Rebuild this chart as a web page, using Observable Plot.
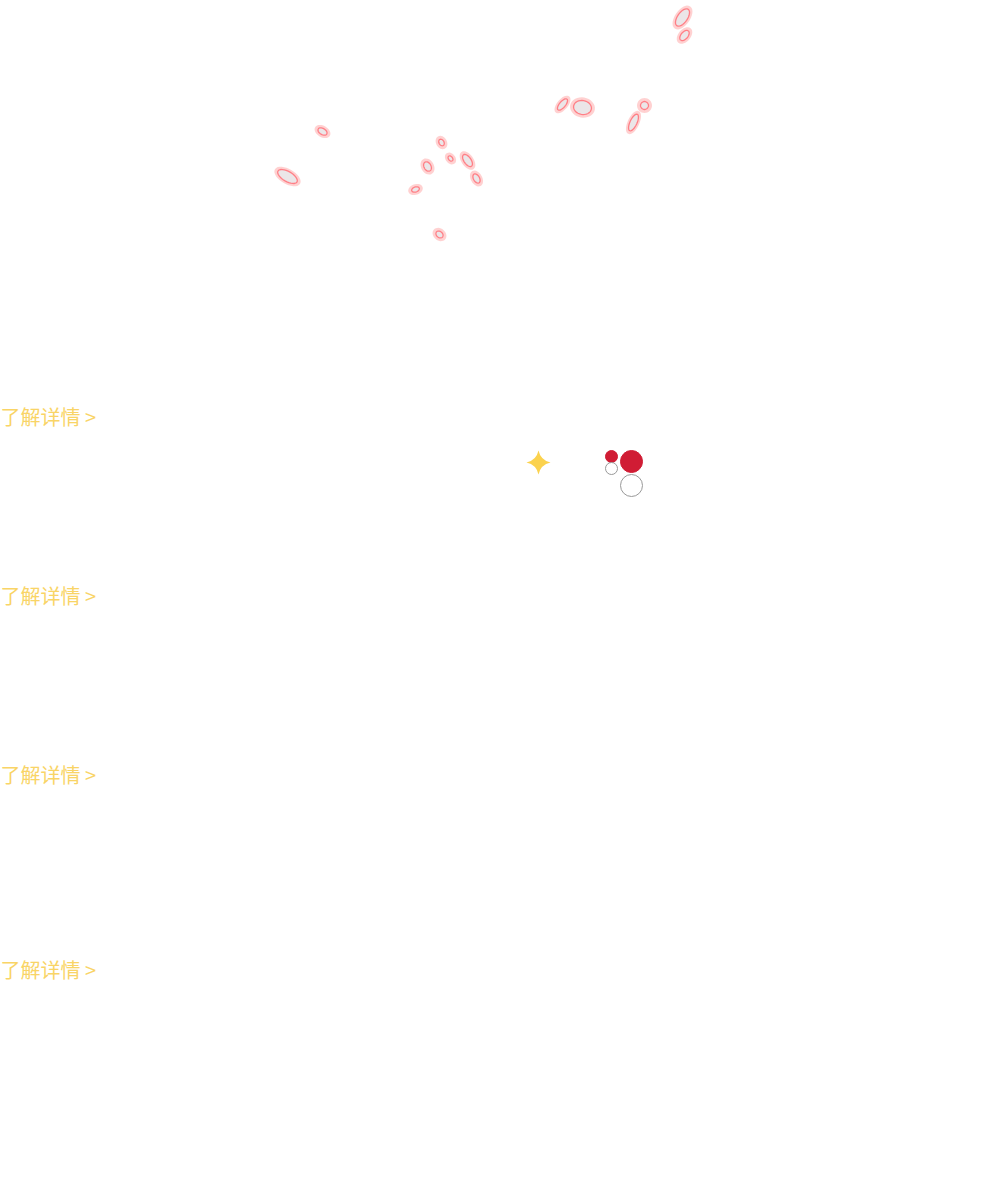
<!DOCTYPE html>
<html><head><meta charset="utf-8">
<style>body{margin:0;background:#fff}</style>
<script src="https://cdn.jsdelivr.net/npm/d3@7"></script>
<script src="https://cdn.jsdelivr.net/npm/@observablehq/plot@0.6"></script>
</head><body>
<script>
// petals: x, y, rx, ry, angle
const petalX = [682,684,562,582,644,633,322,287,441,450,467,427,476,415,439];
const petalY = [17,35,104,107,105,122,131,176,142,158,160,166,178,189,234];
const petalRx = [10,6,7,9,4,9,5,11,3.5,3,7,5,5,4,4];
const petalRy = [5,3.5,3,7,4,3.5,3,5,2.5,2,3.5,3.5,3,2.5,3];
const petalAngle = [-55,-50,-50,10,0,-65,30,30,60,50,55,60,60,-20,40];
const linkLabels = ["了解详情 >","了解详情 >","了解详情 >","了解详情 >"];
const linkY = [418,597,776,971];
const starX = [538], starY = [462];
const bubbleX = [611,631,611,631];
const bubbleY = [456,461,468,485];
const bubbleR = [6,11,6,11];
const bubbleFilled = [true,true,false,false];

const petals = petalX.map((x,i)=>({x,y:petalY[i],rx:petalRx[i],ry:petalRy[i],a:petalAngle[i]}));
const links = linkLabels.map((t,i)=>({t,y:linkY[i],x:0}));
const bubbles = bubbleX.map((x,i)=>({x,y:bubbleY[i],r:bubbleR[i],f:bubbleFilled[i]}));

function ellipseSymbol(ratio){
  return {draw(ctx,size){
    const r=Math.sqrt(size/Math.PI);
    const n=32;
    for(let k=0;k<=n;k++){
      const t=2*Math.PI*k/n;
      const px=r*Math.cos(t), py=r*ratio*Math.sin(t);
      if(k===0) ctx.moveTo(px,py); else ctx.lineTo(px,py);
    }
    ctx.closePath();
  }};
}
const sparkle = {draw(ctx,size){
  const r=Math.sqrt(size/Math.PI), q=r*0.18;
  ctx.moveTo(0,-r);
  ctx.quadraticCurveTo(q,-q,r,0);
  ctx.quadraticCurveTo(q,q,0,r);
  ctx.quadraticCurveTo(-q,q,-r,0);
  ctx.quadraticCurveTo(-q,-q,0,-r);
  ctx.closePath();
}};

const marks = [];
petals.forEach(p=>{
  marks.push(Plot.dot([p],{x:"x",y:"y",r:d=>d.rx+2,rotate:"a",symbol:ellipseSymbol(p.ry/p.rx),fill:"none",stroke:"#ffb3b3",strokeWidth:3,strokeOpacity:0.6}));
  marks.push(Plot.dot([p],{x:"x",y:"y",r:"rx",rotate:"a",symbol:ellipseSymbol(p.ry/p.rx),fill:"#ebe6e8",stroke:"#ff7f86",strokeWidth:1.3}));
});
marks.push(Plot.text(links,{x:"x",y:"y",text:"t",textAnchor:"start",fill:"#f9d466",fontSize:20,fontFamily:"Noto Sans CJK SC"}));
marks.push(Plot.dot(starX.map((x,i)=>({x,y:starY[i]})),{x:"x",y:"y",r:12,symbol:sparkle,fill:"#fbd24e"}));
marks.push(Plot.dot(bubbles,{x:"x",y:"y",r:"r",fill:d=>d.f?"#d01c34":"#fff",stroke:d=>d.f?"#d01c34":"#999",strokeWidth:1}));

const chart = Plot.plot({
  width:1000,height:1200,margin:0,
  x:{domain:[0,1000],range:[0,1000],axis:null},
  y:{domain:[0,1200],range:[0,1200],axis:null},
  r:{type:"identity"},
  style:{background:"#fff"},
  marks
});
document.body.appendChild(chart);
</script>
</body></html>
